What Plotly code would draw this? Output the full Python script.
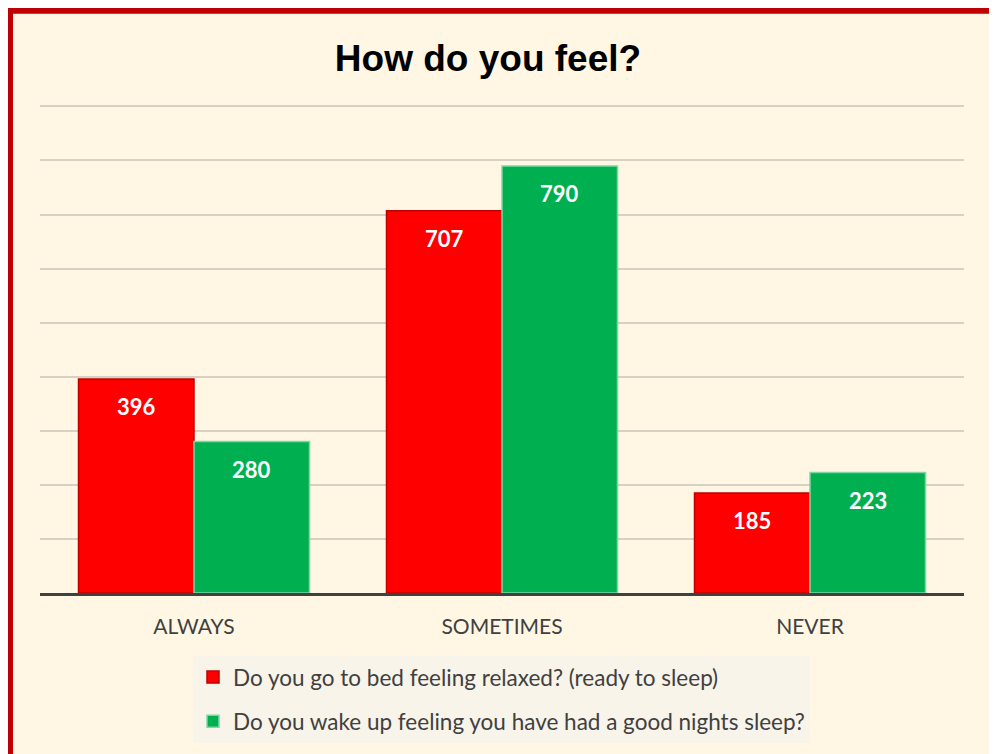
import plotly.graph_objects as go

categories = ["ALWAYS", "SOMETIMES", "NEVER"]
series_names = [
    "Do you go to bed feeling relaxed? (ready to sleep)",
    "Do you wake up feeling you have had a good nights sleep?",
]
relaxed = [396, 707, 185]
good_sleep = [280, 790, 223]
title_text = "How do you feel?"

BG = "#fff7e4"
fills = ["#ff0000", "#00b050"]
outlines = ["#c00000", "#7fd6a4"]
series_values = [relaxed, good_sleep]

W, H = 989, 746
YMAX = 910
L = 32
BASE = 586                      # baseline position inside the figure
PW = 924
PH = 488 * YMAX / 900
T = BASE - PH
B = H - BASE
R = W - L - PW

fig = go.Figure()
for i, (name, vals) in enumerate(zip(series_names, series_values)):
    fig.add_trace(go.Bar(
        x=categories, y=vals, name=name,
        marker=dict(color=fills[i], line=dict(color=outlines[i], width=1.5)),
        legendgroup=f"g{i}",
    ))

annotations = []
shifts = [-57.75, 57.75]
for i, vals in enumerate(series_values):
    for c, v in zip(categories, vals):
        annotations.append(dict(
            x=c, y=v, xref="x", yref="y", text=f"<b>{v}</b>", showarrow=False,
            xshift=shifts[i], yshift=-28, yanchor="middle",
            font=dict(family="Lato", size=22, color="#ffffff"),
        ))

fig.update_layout(
    width=W, height=H,
    paper_bgcolor=BG, plot_bgcolor=BG,
    margin=dict(l=L, r=R, t=T, b=B),
    barmode="group", bargap=0.25, bargroupgap=0,
    title=dict(text=f"<b>{title_text}</b>", x=(488 - 8) / W, xanchor="center",
               y=1 - 50 / H, yanchor="middle", yref="container",
               font=dict(family="Liberation Sans", size=37, color="#000000")),
    xaxis=dict(showline=True, linecolor="#404040", linewidth=3,
               ticks="outside", ticklen=13, tickcolor="rgba(0,0,0,0)",
               tickfont=dict(family="Lato", size=21, color="#404040"),
               showgrid=False),
    yaxis=dict(range=[0, YMAX], tickvals=[100, 200, 300, 400, 500, 600, 700, 800, 900],
               showticklabels=False,
               showgrid=True, gridcolor="#d8d0c2", gridwidth=2,
               zeroline=False, showline=False),
    showlegend=True,
    legend=dict(orientation="v", x=(185 - L) / PW, xanchor="left",
                y=(BASE - 648) / PH, yanchor="top",
                bgcolor="#f8f4ea", font=dict(family="Lato", size=22.5, color="#404040"),
                tracegroupgap=12, itemwidth=30, traceorder="grouped"),
    annotations=annotations,
    shapes=[dict(type="rect", xref="paper", yref="paper",
                 x0=(2 - L) / PW, x1=(985 - L) / PW,
                 y0=(BASE - 770) / PH, y1=(BASE - 2) / PH,
                 line=dict(color="#c00000", width=6), layer="below")],
)

fig.write_html("out.html")
